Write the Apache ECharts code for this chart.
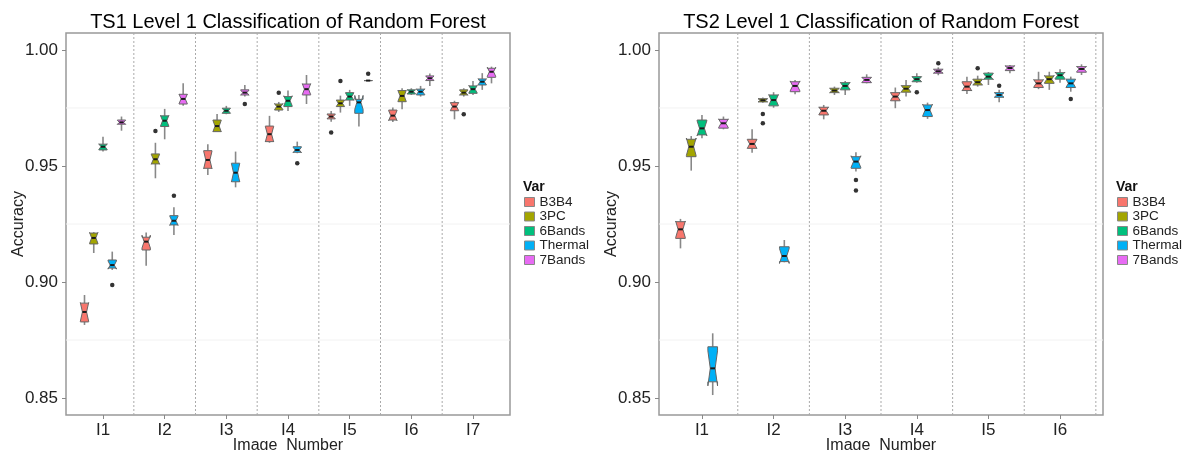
<!DOCTYPE html>
<html><head><meta charset="utf-8">
<script src="https://cdn.jsdelivr.net/npm/echarts@6/dist/echarts.min.js"></script>
<style>html,body{margin:0;padding:0;background:#fff}#c{width:1183px;height:450px}</style>
</head><body><div id="c"></div>
<script>
// ---------- DATA ----------
const variables = ['B3B4', '3PC', '6Bands', 'Thermal', '7Bands'];
const ts1Categories = ['I1', 'I2', 'I3', 'I4', 'I5', 'I6', 'I7'];
const ts2Categories = ['I1', 'I2', 'I3', 'I4', 'I5', 'I6'];
const yTicks = [0.85, 0.90, 0.95, 1.00];
const separators1 = [0.5, 1.5, 2.5, 3.5, 4.5, 5.5];
const separators2 = [0.5, 1.5, 2.5, 3.5, 4.5, 5.5];
const minorGrid = [0.875, 0.925, 0.975];

// each entry: [lower whisker, Q1, median, Q3, upper whisker] per image
const ts1_B3B4 = [[0.8815,0.8828,0.8871,0.8909,0.8944],[0.907,0.9138,0.9174,0.9193,0.9213],[0.9461,0.949,0.9526,0.9566,0.9594],[0.96,0.9605,0.9637,0.9672,0.9716],[0.9691,0.9703,0.9713,0.9724,0.9737],[0.969,0.9698,0.9717,0.9741,0.9752],[0.9701,0.9738,0.9756,0.9773,0.9781]];
const ts1_3PC = [[0.9125,0.9164,0.919,0.9211,0.9215],[0.9447,0.9509,0.9529,0.9552,0.96],[0.9648,0.9648,0.9672,0.9698,0.9724],[0.9733,0.9741,0.9756,0.9767,0.9776],[0.973,0.9756,0.977,0.9784,0.9803],[0.9744,0.9777,0.9802,0.9825,0.9835],[0.9799,0.9806,0.9816,0.9828,0.9835]];
const ts1_6Bands = [[0.9562,0.9569,0.9583,0.9594,0.9626],[0.9615,0.967,0.9695,0.9716,0.9746],[0.9723,0.9727,0.9738,0.9749,0.9759],[0.9737,0.9756,0.9781,0.9799,0.9825],[0.9759,0.9784,0.9799,0.9816,0.9828],[0.9806,0.981,0.982,0.9828,0.9835],[0.9806,0.9813,0.9831,0.9845,0.9866]];
const ts1_Thermal = [[0.9052,0.906,0.9073,0.9095,0.9131],[0.9203,0.9246,0.9264,0.9286,0.9322],[0.9408,0.9432,0.9471,0.9512,0.9562],[0.9555,0.9559,0.9569,0.9583,0.9605],[0.967,0.9727,0.9774,0.9787,0.9806],[0.9799,0.9806,0.982,0.9831,0.9845],[0.9828,0.9849,0.9863,0.9875,0.99]];
const ts1_7Bands = [[0.9652,0.968,0.9688,0.9698,0.9713],[0.9759,0.9767,0.9789,0.9809,0.9856],[0.9799,0.9806,0.9816,0.9828,0.9849],[0.9767,0.9806,0.9831,0.9853,0.9892],[0.9868,0.9868,0.9868,0.9868,0.9868],[0.9845,0.9868,0.9878,0.9888,0.9899],[0.9856,0.9882,0.9906,0.9921,0.9928]];
// outliers: [image index, variable index, value]
const ts1_outliers = [[0,3,0.8987],[1,1,0.9651],[1,3,0.9372],[2,4,0.9767],[3,1,0.9816],[3,3,0.9512],[4,0,0.9644],[4,1,0.9866],[4,4,0.9897],[6,1,0.9723]];

const ts2_B3B4 = [[0.9145,0.9188,0.9227,0.926,0.9272],[0.9557,0.9576,0.9595,0.9615,0.9658],[0.9701,0.972,0.9738,0.9753,0.9763],[0.9749,0.9781,0.9799,0.9816,0.9838],[0.981,0.9825,0.9842,0.9863,0.9885],[0.9831,0.9838,0.9856,0.9871,0.9906]];
const ts2_3PC = [[0.948,0.954,0.9583,0.9615,0.9629],[0.9772,0.9776,0.9783,0.979,0.9795],[0.9806,0.9816,0.9825,0.9835,0.9842],[0.9799,0.9818,0.9833,0.9846,0.9871],[0.9842,0.9849,0.9861,0.9874,0.9889],[0.9828,0.9856,0.9874,0.9888,0.9906]];
const ts2_6Bands = [[0.9619,0.9634,0.9662,0.9698,0.972],[0.9751,0.9759,0.9784,0.9806,0.9818],[0.9806,0.9828,0.9845,0.9859,0.9866],[0.9859,0.9863,0.9874,0.9885,0.99],[0.9849,0.9874,0.9885,0.99,0.9905],[0.9859,0.9874,0.9891,0.9902,0.9917]];
const ts2_Thermal = [[0.8513,0.857,0.8628,0.8721,0.8779],[0.9085,0.9088,0.9112,0.9152,0.9181],[0.9476,0.949,0.9519,0.954,0.9559],[0.9703,0.9713,0.9741,0.9763,0.9773],[0.9775,0.9796,0.9806,0.9816,0.9828],[0.982,0.9838,0.9856,0.9874,0.9885]];
const ts2_7Bands = [[0.9658,0.9663,0.9684,0.9701,0.9713],[0.9809,0.982,0.9845,0.9863,0.9871],[0.9856,0.9859,0.9871,0.9882,0.9895],[0.9891,0.99,0.9908,0.9917,0.9925],[0.99,0.9911,0.9922,0.9931,0.9935],[0.9892,0.9904,0.9918,0.9928,0.9938]];
const ts2_outliers = [[1,1,0.9724],[1,1,0.9684],[2,3,0.944],[2,3,0.9394],[3,2,0.9818],[3,4,0.9943],[4,1,0.9921],[4,3,0.9846],[5,3,0.9789]];

const sampleSize = 10; // used for notch extent (ggplot: median ± 1.58*IQR/sqrt(n))

// ---------- STYLE ----------
const colors = ['#F8766D', '#A3A500', '#00BF7D', '#00B0F6', '#E76BF3'];
const dodge = [-0.3, -0.15, 0, 0.15, 0.3];
const boxWidth = 0.135;
const FONT = 'Liberation Sans, Arial, sans-serif';
const Y_MIN = 0.8427, Y_MAX = 1.0073;

const ts1Sets = [ts1_B3B4, ts1_3PC, ts1_6Bands, ts1_Thermal, ts1_7Bands];
const ts2Sets = [ts2_B3B4, ts2_3PC, ts2_6Bands, ts2_Thermal, ts2_7Bands];

function boxSeries(sets, vi, gi) {
  return {
    type: 'custom', name: variables[vi], xAxisIndex: gi, yAxisIndex: gi,
    itemStyle: { color: colors[vi], borderColor: '#888', borderWidth: 1 },
    data: sets[vi].map((d, i) => [i, d[0], d[1], d[2], d[3], d[4]]),
    encode: { x: 0, y: [1, 2, 3, 4, 5] },
    z: 3,
    renderItem: function (params, api) {
      const x = api.value(0) + dodge[vi];
      const low = api.value(1), q1 = api.value(2), med = api.value(3), q3 = api.value(4), high = api.value(5);
      const iqr = q3 - q1;
      const nh = 1.58 * iqr / Math.sqrt(sampleSize);
      const nLo = med - nh, nHi = med + nh;
      const hw = boxWidth / 2;
      const P = (xx, yy) => api.coord([xx, yy]);
      const xl = x - hw, xr = x + hw, xil = x - hw / 2, xir = x + hw / 2;
      const pts = [P(xl, q3), P(xl, nHi), P(xil, med), P(xl, nLo), P(xl, q1),
                   P(xr, q1), P(xr, nLo), P(xir, med), P(xr, nHi), P(xr, q3)];
      const a = P(x, high), b = P(x, q3), c = P(x, q1), d = P(x, low);
      const m1 = P(xil, med), m2 = P(xir, med);
      return {
        type: 'group', children: [
          { type: 'line', shape: { x1: a[0], y1: a[1], x2: b[0], y2: b[1] }, style: { stroke: '#888', lineWidth: 1.6 } },
          { type: 'line', shape: { x1: c[0], y1: c[1], x2: d[0], y2: d[1] }, style: { stroke: '#888', lineWidth: 1.6 } },
          { type: 'polygon', shape: { points: pts }, style: { fill: colors[vi], stroke: '#666', lineWidth: 1 } },
          { type: 'line', shape: { x1: m1[0], y1: m1[1], x2: m2[0], y2: m2[1] }, style: { stroke: '#1a1a1a', lineWidth: 2 } }
        ]
      };
    }
  };
}

function outlierSeries(list, gi) {
  return {
    type: 'scatter', xAxisIndex: gi, yAxisIndex: gi, symbolSize: 4.5, z: 4,
    itemStyle: { color: '#000' }, silent: true,
    data: list.map(o => [o[0] + dodge[o[1]], o[2]])
  };
}

function vlineSeries(seps, gi) {
  return {
    type: 'custom', xAxisIndex: gi, yAxisIndex: gi, silent: true, z: 1,
    data: seps.map(s => [s]), encode: { x: 0 },
    renderItem: function (params, api) {
      const cs = params.coordSys;
      const p = api.coord([api.value(0), Y_MIN]);
      return { type: 'line', shape: { x1: p[0], y1: cs.y, x2: p[0], y2: cs.y + cs.height },
        style: { stroke: '#aaa', lineWidth: 1, lineDash: [2, 2] } };
    }
  };
}

function hgridSeries(vals, gi, xmin) {
  return {
    type: 'custom', xAxisIndex: gi, yAxisIndex: gi, silent: true, z: 0,
    data: vals.map(v => [xmin, v]), encode: { x: 0, y: 1 },
    renderItem: function (params, api) {
      const cs = params.coordSys;
      const p = api.coord([api.value(0), api.value(1)]);
      return { type: 'line', shape: { x1: cs.x, y1: p[1], x2: cs.x + cs.width, y2: p[1] },
        style: { stroke: '#f2f2f2', lineWidth: 1 } };
    }
  };
}

function xAxisFor(gi, cats) {
  const idx = cats.map((c, i) => i);
  return {
    type: 'value', gridIndex: gi, min: -0.6, max: cats.length - 0.4, position: 'bottom',
    axisLine: { show: false, onZero: false }, splitLine: { show: false },
    axisTick: { show: true, customValues: idx, length: 4, lineStyle: { color: '#888', width: 1 } },
    axisLabel: { customValues: idx, formatter: v => cats[Math.round(v)], fontSize: 17, color: '#222', fontFamily: FONT, margin: 7 }
  };
}
function yAxisFor(gi) {
  return {
    type: 'value', gridIndex: gi, min: Y_MIN, max: Y_MAX, position: 'left',
    axisLine: { show: false, onZero: false }, splitLine: { show: false },
    axisTick: { show: true, customValues: yTicks, length: 4, lineStyle: { color: '#888', width: 1 } },
    axisLabel: { customValues: yTicks, formatter: v => v.toFixed(2), fontSize: 17, color: '#222', fontFamily: FONT, margin: 8 }
  };
}

function legendFor(left) {
  return {
    orient: 'vertical', left: left, top: 195, padding: 0, itemGap: 0.5,
    itemWidth: 10, itemHeight: 9, icon: 'rect', selectedMode: false,
    data: variables,
    itemStyle: { borderColor: '#888', borderWidth: 1 },
    textStyle: { fontSize: 13.5, color: '#222', fontFamily: FONT, lineHeight: 14 }
  };
}

const series = [];
series.push(hgridSeries(minorGrid, 0, 0), hgridSeries(minorGrid, 1, 0));
series.push(vlineSeries(separators1, 0), vlineSeries(separators2, 1));
for (let v = 0; v < variables.length; v++) series.push(boxSeries(ts1Sets, v, 0));
for (let v = 0; v < variables.length; v++) series.push(boxSeries(ts2Sets, v, 1));
series.push(outlierSeries(ts1_outliers, 0), outlierSeries(ts2_outliers, 1));

const chart = echarts.init(document.getElementById('c'), null, { renderer: 'canvas' });
chart.setOption({
  animation: false,
  backgroundColor: '#fff',
  grid: [
    { left: 66, width: 444, top: 33, height: 382, show: true, borderColor: '#999', borderWidth: 1.5 },
    { left: 659, width: 444, top: 33, height: 382, show: true, borderColor: '#999', borderWidth: 1.5 }
  ],
  xAxis: [xAxisFor(0, ts1Categories), xAxisFor(1, ts2Categories)],
  yAxis: [yAxisFor(0), yAxisFor(1)],
  legend: [legendFor(524), legendFor(1117)],
  graphic: [
    { type: 'text', x: 288, y: 22, style: { text: 'TS1 Level 1 Classification of Random Forest', font: '20px ' + FONT, fill: '#000', textAlign: 'center', textVerticalAlign: 'middle' } },
    { type: 'text', x: 881, y: 22, style: { text: 'TS2 Level 1 Classification of Random Forest', font: '20px ' + FONT, fill: '#000', textAlign: 'center', textVerticalAlign: 'middle' } },
    { type: 'text', x: 19, y: 224, rotation: Math.PI / 2, style: { text: 'Accuracy', font: '16px ' + FONT, fill: '#222', textAlign: 'center', textVerticalAlign: 'middle' } },
    { type: 'text', x: 612, y: 224, rotation: Math.PI / 2, style: { text: 'Accuracy', font: '16px ' + FONT, fill: '#222', textAlign: 'center', textVerticalAlign: 'middle' } },
    { type: 'text', x: 288, y: 438, style: { text: 'Image  Number', font: '16px ' + FONT, fill: '#222', textAlign: 'center', textVerticalAlign: 'top' } },
    { type: 'text', x: 881, y: 438, style: { text: 'Image  Number', font: '16px ' + FONT, fill: '#222', textAlign: 'center', textVerticalAlign: 'top' } },
    { type: 'text', x: 523, y: 187, style: { text: 'Var', font: 'bold 14px ' + FONT, fill: '#111', textAlign: 'left', textVerticalAlign: 'middle' } },
    { type: 'text', x: 1116, y: 187, style: { text: 'Var', font: 'bold 14px ' + FONT, fill: '#111', textAlign: 'left', textVerticalAlign: 'middle' } }
  ],
  series: series
});
</script>
</body></html>
